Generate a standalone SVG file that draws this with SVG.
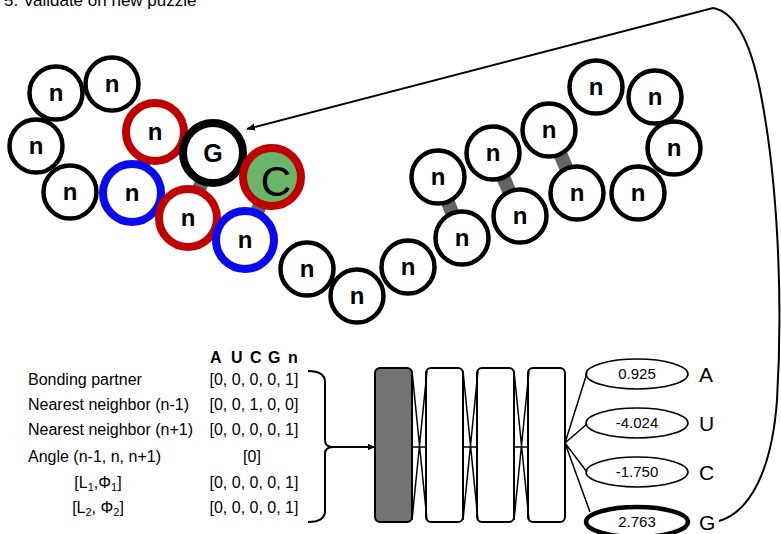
<svg xmlns="http://www.w3.org/2000/svg" width="781" height="534" viewBox="0 0 781 534">
<defs>
<marker id="ah" viewBox="0 0 10 10" refX="9" refY="5" markerWidth="7" markerHeight="7" orient="auto" markerUnits="userSpaceOnUse"><path d="M0,0 L10,5 L0,10 z" fill="#000"/></marker>
<marker id="ah2" viewBox="0 0 10 10" refX="9" refY="5" markerWidth="9" markerHeight="9" orient="auto" markerUnits="userSpaceOnUse"><path d="M0,1 L10,5 L0,9 z" fill="#000"/></marker>
</defs>
<style>
text{font-family:"Liberation Sans",Arial,sans-serif;fill:#000}
.nb circle{fill:#fff;stroke:#000;stroke-width:4.5}
.red circle{fill:#fff;stroke:#c00000;stroke-width:8}
.blue circle{fill:#fff;stroke:#0a0af0;stroke-width:8}
.nl{font-size:24px;font-weight:bold;text-anchor:middle}
.bond{stroke:#646464;stroke-width:14;stroke-linecap:butt}
.lbl{font-size:16px}
.vec{font-size:16px;text-anchor:middle}
.box{fill:#fff;stroke:#000;stroke-width:2}
.thin{stroke:#000;stroke-width:1.5;fill:none}
.ell{fill:#fff;stroke:#000;stroke-width:1.6}
.val{font-size:15px;text-anchor:middle}
.out{font-size:21px}
</style>
<rect width="781" height="534" fill="#fff"/>
<text x="4" y="6" font-size="17">5. Validate on new puzzle</text>

<g id="bonds">
<line class="bond" x1="155" y1="132" x2="132" y2="193"/>
<line class="bond" x1="213" y1="153" x2="188" y2="218"/>
<line class="bond" x1="272" y1="177" x2="245" y2="240"/>
<line class="bond" x1="438" y1="177" x2="462" y2="238"/>
<line class="bond" x1="493" y1="153" x2="520" y2="217"/>
<line class="bond" x1="550" y1="130" x2="577" y2="193"/>
</g>

<g id="n1" class="nb"><circle cx="56" cy="93" r="26.5"/><text class="nl" x="56" y="101">n</text></g>
<g id="n2" class="nb"><circle cx="112" cy="84" r="26.5"/><text class="nl" x="112" y="92">n</text></g>
<g id="n3" class="nb"><circle cx="36" cy="146" r="26.5"/><text class="nl" x="36" y="154">n</text></g>
<g id="n4" class="nb"><circle cx="70" cy="192" r="26.5"/><text class="nl" x="70" y="200">n</text></g>
<g id="n5" class="red"><circle cx="155" cy="132" r="29"/><text class="nl" x="155" y="140">n</text></g>
<g id="g6"><circle cx="213" cy="153" r="30" fill="#fff" stroke="#000" stroke-width="8"/><text x="213" y="162" font-size="25" font-weight="bold" text-anchor="middle">G</text></g>
<g id="c7"><circle cx="272" cy="177" r="29" fill="#6bb56b" stroke="#c00000" stroke-width="8"/><text x="276" y="196" font-size="42" text-anchor="middle">C</text></g>
<g id="n8" class="blue"><circle cx="132" cy="193" r="29"/><text class="nl" x="132" y="201">n</text></g>
<g id="n9" class="red"><circle cx="188" cy="218" r="29"/><text class="nl" x="188" y="226">n</text></g>
<g id="n10" class="blue"><circle cx="245" cy="240" r="29"/><text class="nl" x="245" y="248">n</text></g>
<g id="n11" class="nb"><circle cx="307" cy="269" r="26.5"/><text class="nl" x="307" y="277">n</text></g>
<g id="n12" class="nb"><circle cx="357" cy="296" r="26.5"/><text class="nl" x="357" y="304">n</text></g>
<g id="n13" class="nb"><circle cx="408" cy="267" r="26.5"/><text class="nl" x="408" y="275">n</text></g>
<g id="n14" class="nb"><circle cx="462" cy="238" r="26.5"/><text class="nl" x="462" y="246">n</text></g>
<g id="n15" class="nb"><circle cx="438" cy="177" r="26.5"/><text class="nl" x="438" y="185">n</text></g>
<g id="n16" class="nb"><circle cx="493" cy="153" r="26.5"/><text class="nl" x="493" y="161">n</text></g>
<g id="n17" class="nb"><circle cx="520" cy="216" r="26.5"/><text class="nl" x="520" y="224">n</text></g>
<g id="n18" class="nb"><circle cx="549" cy="130" r="26.5"/><text class="nl" x="549" y="138">n</text></g>
<g id="n19" class="nb"><circle cx="577" cy="193" r="26.5"/><text class="nl" x="577" y="201">n</text></g>
<g id="n20" class="nb"><circle cx="596" cy="87" r="26.5"/><text class="nl" x="596" y="95">n</text></g>
<g id="n21" class="nb"><circle cx="655" cy="97" r="26.5"/><text class="nl" x="655" y="105">n</text></g>
<g id="n22" class="nb"><circle cx="674" cy="148" r="26.5"/><text class="nl" x="674" y="156">n</text></g>
<g id="n23" class="nb"><circle cx="638" cy="193" r="26.5"/><text class="nl" x="638" y="201">n</text></g>

<g id="features">
<text x="210" y="363" font-size="16" font-weight="bold">A</text>
<text x="231" y="363" font-size="16" font-weight="bold">U</text>
<text x="250" y="363" font-size="16" font-weight="bold">C</text>
<text x="268" y="363" font-size="16" font-weight="bold">G</text>
<text x="288" y="363" font-size="16" font-weight="bold">n</text>
<text class="lbl" x="28" y="385">Bonding partner</text>
<text class="lbl" x="28" y="410">Nearest neighbor (n-1)</text>
<text class="lbl" x="28" y="435">Nearest neighbor (n+1)</text>
<text class="lbl" x="28" y="462">Angle (n-1, n, n+1)</text>
<text class="lbl" x="98" y="488" text-anchor="middle">[L<tspan font-size="11" dy="3">1</tspan><tspan dy="-3">,Φ</tspan><tspan font-size="11" dy="3">1</tspan><tspan dy="-3">]</tspan></text>
<text class="lbl" x="98" y="513" text-anchor="middle">[L<tspan font-size="11" dy="3">2</tspan><tspan dy="-3">, Φ</tspan><tspan font-size="11" dy="3">2</tspan><tspan dy="-3">]</tspan></text>
<text class="vec" x="254" y="385">[0, 0, 0, 0, 1]</text>
<text class="vec" x="254" y="410">[0, 0, 1, 0, 0]</text>
<text class="vec" x="254" y="435">[0, 0, 0, 0, 1]</text>
<text class="vec" x="252" y="462">[0]</text>
<text class="vec" x="254" y="488">[0, 0, 0, 0, 1]</text>
<text class="vec" x="254" y="513">[0, 0, 0, 0, 1]</text>
</g>

<g id="network">
<rect x="375" y="368" width="37" height="154" rx="5" fill="#737373" stroke="#000" stroke-width="2"/>
<rect class="box" x="426" y="368" width="37" height="154" rx="5"/>
<rect class="box" x="477" y="368" width="37" height="154" rx="5"/>
<rect class="box" x="528" y="368" width="37" height="154" rx="5"/>
</g>

<g id="outputs">
<g id="oA"><ellipse class="ell" cx="637" cy="374" rx="51" ry="15"/><text class="val" x="637" y="379">0.925</text><text class="out" x="699" y="382">A</text></g>
<g id="oU"><ellipse class="ell" cx="637" cy="423" rx="51" ry="15"/><text class="val" x="637" y="428">-4.024</text><text class="out" x="699" y="431">U</text></g>
<g id="oC"><ellipse class="ell" cx="637" cy="472" rx="51" ry="15"/><text class="val" x="637" y="477">-1.750</text><text class="out" x="699" y="480">C</text></g>
<g id="oG"><ellipse cx="637" cy="522" rx="51" ry="15" fill="#fff" stroke="#000" stroke-width="4.5"/><text class="val" x="637" y="527">2.763</text><text class="out" x="699" y="530">G</text></g>
</g>

<g id="connectors">
<path d="M308,371 Q325,371 325,382 L325,440 Q325,447 333,447 Q325,447 325,454 L325,511 Q325,522 308,522" fill="none" stroke="#000" stroke-width="2"/>
<line x1="333" y1="447" x2="374" y2="447" stroke="#000" stroke-width="2" marker-end="url(#ah)"/>
<path class="thin" d="M412,371 L427,520 M412,520 L427,371 M412,447 L427,447"/>
<path class="thin" d="M463,371 L478,520 M463,520 L478,371 M463,447 L478,447"/>
<path class="thin" d="M514,371 L529,520 M514,520 L529,371 M514,447 L529,447"/>
<path class="thin" d="M565,443 L587,373 M565,443 L587,424 M565,443 L587,472 M565,443 L590,512"/>
<path d="M719,521 C750,512 772,470 777,400 C783,300 778,180 760,90 C750,40 735,12 713,8 L247,129" fill="none" stroke="#000" stroke-width="2" marker-end="url(#ah2)"/>
</g>
</svg>
